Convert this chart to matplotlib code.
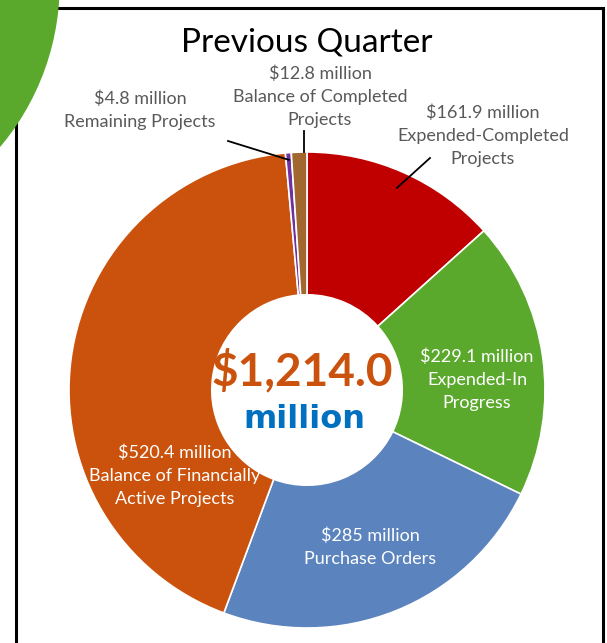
import matplotlib
matplotlib.use("Agg")
import matplotlib.pyplot as plt
import numpy as np
from matplotlib.patches import Circle, Rectangle

# ---- data ----
categories = ["Expended-Completed Projects", "Expended-In Progress", "Purchase Orders",
              "Balance of Financially Active Projects", "Remaining Projects",
              "Balance of Completed Projects"]
values = [161.9, 229.1, 285.0, 520.4, 4.8, 12.8]
value_labels = ["$161.9 million", "$229.1 million", "$285 million",
                "$520.4 million", "$4.8 million", "$12.8 million"]
label_texts = ["Expended-Completed\nProjects", "Expended-In\nProgress", "Purchase Orders",
               "Balance of Financially\nActive Projects", "Remaining Projects",
               "Balance of Completed\nProjects"]
colors = ["#C00000", "#5BA92C", "#5B83BE", "#CB520C", "#7030A0", "#A0672E"]
title = "Previous Quarter"
total_text = "$1,214.0"
unit_text = "million"

W, H = 607, 643
fig = plt.figure(figsize=(W / 100, H / 100), dpi=100)
ax = fig.add_axes([0, 0, 1, 1])

def Y(y):  # image y (top-down) -> data y
    return H - y

cx, cy, R = 307, Y(390), 238
wedges, _ = ax.pie(values, colors=colors, startangle=90, counterclock=False,
                   radius=R, center=(cx, cy),
                   wedgeprops=dict(width=R * 0.6, edgecolor="white", linewidth=1.2))
ax.set_xlim(0, W)
ax.set_ylim(0, H)
ax.set_aspect("equal")
ax.axis("off")

# frame
ax.add_patch(Rectangle((16, Y(700)), 603 - 16, 700 - 8, fill=False,
                       edgecolor="black", linewidth=2.2, zorder=5))
# decorative green circle
ax.add_patch(Circle((-193, Y(-16)), 252, color="#5BA92C", zorder=6, clip_on=True))

font = "Lato"
gray = "#595959"
ax.text(307, Y(42), title, ha="center", va="center", fontsize=24,
        family=font, color="black")

ax.text(cx - 5, Y(371), total_text, ha="center", va="center", fontsize=33,
        family=font, fontweight="bold", color="#CB520C", zorder=7)
ax.text(cx - 3, Y(420), unit_text, ha="center", va="center", fontsize=23,
        family="DejaVu Sans", fontweight="bold", color="#0070C0", zorder=7)

# label positions (image coords) and colors
label_pos = [(483, 136), (477, 380), (370, 547), (175, 476), (140, 110), (320, 97)]
label_col = [gray, "white", "white", "white", gray, gray]
for i in range(len(values)):
    x, y = label_pos[i]
    ax.text(x, Y(y), value_labels[i] + "\n" + label_texts[i], ha="center", va="center",
            fontsize=13, family=font, color=label_col[i], linespacing=1.55, zorder=7)

# leader lines for outside labels
cum = np.cumsum([0] + values)
tot = sum(values)
def mid_point(i, r):
    a = np.deg2rad(90 - 360 * (cum[i] + values[i] / 2) / tot)
    return cx + r * np.cos(a), cy + r * np.sin(a)

leaders = {0: ((430, 158), 0.93), 4: ((228, 141), 0.97), 5: (None, 1.0)}
for i, (start, rf) in leaders.items():
    ex, ey = mid_point(i, R * rf)
    if start is None:
        sx, sy = ex + 5, Y(131)
        ex = ex + 5
    else:
        sx, sy = start[0], Y(start[1])
    ax.plot([sx, ex], [sy, ey], color="black", linewidth=1.3, zorder=7)

fig.savefig("out.png", dpi=100)
